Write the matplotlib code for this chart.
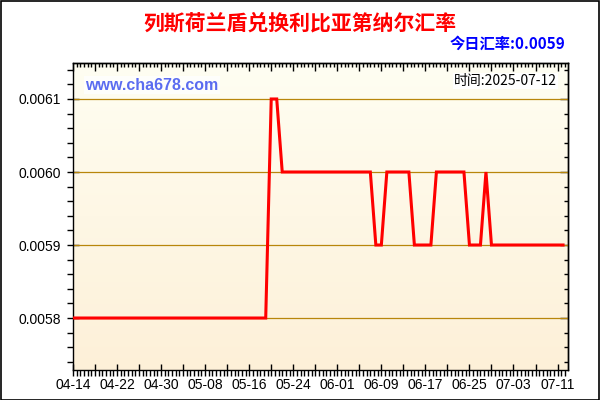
import matplotlib
matplotlib.use("Agg")
import matplotlib.pyplot as plt
import matplotlib.dates as mdates
from matplotlib.ticker import MultipleLocator, FixedLocator, FuncFormatter, NullFormatter
from matplotlib.patches import Rectangle
import numpy as np
import datetime as dt

plt.rcParams['font.family'] = ['Liberation Sans', 'Noto Sans CJK SC', 'DejaVu Sans']

title = "列斯荷兰盾兑换利比亚第纳尔汇率"
today_rate = "今日汇率:0.0059"
site = "www.cha678.com"
time_text = "时间:2025-07-12"

start_date = "2025-04-14"
rates = [
    0.0058, 0.0058, 0.0058, 0.0058, 0.0058, 0.0058, 0.0058, 0.0058, 0.0058, 0.0058,
    0.0058, 0.0058, 0.0058, 0.0058, 0.0058, 0.0058, 0.0058, 0.0058, 0.0058, 0.0058,
    0.0058, 0.0058, 0.0058, 0.0058, 0.0058, 0.0058, 0.0058, 0.0058, 0.0058, 0.0058,
    0.0058, 0.0058, 0.0058, 0.0058, 0.0058, 0.0058, 0.0061, 0.0061, 0.0060, 0.0060,
    0.0060, 0.0060, 0.0060, 0.0060, 0.0060, 0.0060, 0.0060, 0.0060, 0.0060, 0.0060,
    0.0060, 0.0060, 0.0060, 0.0060, 0.0060, 0.0059, 0.0059, 0.0060, 0.0060, 0.0060,
    0.0060, 0.0060, 0.0059, 0.0059, 0.0059, 0.0059, 0.0060, 0.0060, 0.0060, 0.0060,
    0.0060, 0.0060, 0.0059, 0.0059, 0.0059, 0.0060, 0.0059, 0.0059, 0.0059, 0.0059,
    0.0059, 0.0059, 0.0059, 0.0059, 0.0059, 0.0059, 0.0059, 0.0059, 0.0059, 0.0059,
]
x_labels = ["04-14", "04-22", "04-30", "05-08", "05-16", "05-24",
            "06-01", "06-09", "06-17", "06-25", "07-03", "07-11"]
y_ticks = [0.0058, 0.0059, 0.0060, 0.0061]

d0 = dt.datetime.strptime(start_date, "%Y-%m-%d")
dates = [d0 + dt.timedelta(days=i) for i in range(len(rates))]

fig = plt.figure(figsize=(6, 4), dpi=100)
fig.patch.set_facecolor('white')
fig.patches.append(Rectangle((0.001, 0.001), 0.997, 0.996, transform=fig.transFigure,
                             fill=False, edgecolor='black', linewidth=1.2, zorder=10))

ax = fig.add_axes([73/600, 1-370/400, (568-73)/600, (370-63)/400])

# gradient background
grad = np.linspace(0, 1, 256).reshape(-1, 1)
c_top = np.array([255, 254, 242]) / 255
c_bot = np.array([253, 240, 216]) / 255
img = c_top[None, None, :] * (1 - grad[:, :, None]) + c_bot[None, None, :] * grad[:, :, None]
ax.imshow(img, extent=[0, 1, 0, 1], transform=ax.transAxes, aspect='auto', zorder=0)

xnum = mdates.date2num(dates)
ax.plot(xnum, rates, color='#FF0000', linewidth=2.2, zorder=5, solid_joinstyle='miter')

x0 = mdates.date2num(d0)
ax.set_xlim(x0, x0 + 89.9)
ax.set_ylim(0.0057288, 0.0061493)

# x ticks
label_dates = [mdates.date2num(dt.datetime.strptime("2025-" + s, "%Y-%m-%d")) for s in x_labels]
major_x = [x0 + 4 * k for k in range(23)]
lab_map = {round(v): s for v, s in zip(label_dates, x_labels)}


def setup_x(axis, labels):
    axis.set_major_locator(FixedLocator(major_x))
    if labels:
        axis.set_major_formatter(FuncFormatter(lambda v, p: lab_map.get(round(v), "")))
    else:
        axis.set_major_formatter(NullFormatter())
    axis.set_minor_locator(MultipleLocator(4/6))


def setup_y(axis, labels):
    axis.set_major_locator(FixedLocator(y_ticks))
    if labels:
        axis.set_major_formatter(FuncFormatter(lambda v, p: f"{v:.4f}"))
    else:
        axis.set_major_formatter(NullFormatter())
    axis.set_minor_locator(MultipleLocator(0.00002))


setup_x(ax.xaxis, True)
setup_y(ax.yaxis, True)

ax.tick_params(axis='both', which='major', direction='inout', length=9, width=1,
               labelsize=10, colors='black', top=False, right=False)
ax.tick_params(axis='both', which='minor', direction='out', length=4, width=1,
               top=False, right=False)
ax.tick_params(axis='x', which='major', pad=1)
ax.tick_params(axis='y', which='major', pad=4)

# top and right ticks pointing inward
ax_top = ax.secondary_xaxis('top')
setup_x(ax_top.xaxis, False)
ax_top.tick_params(which='major', direction='in', length=6, width=1)
ax_top.tick_params(which='minor', direction='in', length=3, width=1)
ax_right = ax.secondary_yaxis('right')
setup_y(ax_right.yaxis, False)
ax_right.tick_params(which='major', direction='in', length=6, width=1)
ax_right.tick_params(which='minor', direction='in', length=3, width=1)

for a in (ax, ax_top, ax_right):
    for spine in a.spines.values():
        spine.set_color('black')
        spine.set_linewidth(1)

for y in y_ticks:
    ax.axhline(y, color='#B8860B', linewidth=0.9, zorder=2)

fig.text(0.5, 1 - 23/400, title, ha='center', va='center', color='#FF0000',
         fontsize=15, fontweight='bold', family=['Noto Sans CJK SC', 'DejaVu Sans'])
fig.text(565/600, 1 - 44/400, today_rate, ha='right', va='center', color='#0000FF',
         fontsize=11, fontweight='bold', family=['Noto Sans CJK SC', 'Liberation Sans'])
ax.text(85/600, 1 - 85/400, site, transform=fig.transFigure, ha='left', va='center',
        color='#5B6CF0', fontsize=11.5, fontweight='bold', zorder=6,
        bbox=dict(facecolor='white', edgecolor='none', pad=1, alpha=0.8))
ax.text(557/600, 1 - 81/400, time_text, transform=fig.transFigure, ha='right', va='center',
        color='black', fontsize=10, zorder=6, family=['Noto Sans CJK SC', 'Liberation Sans'],
        bbox=dict(facecolor='white', edgecolor='none', pad=1))

fig.savefig("out.png", dpi=100)
